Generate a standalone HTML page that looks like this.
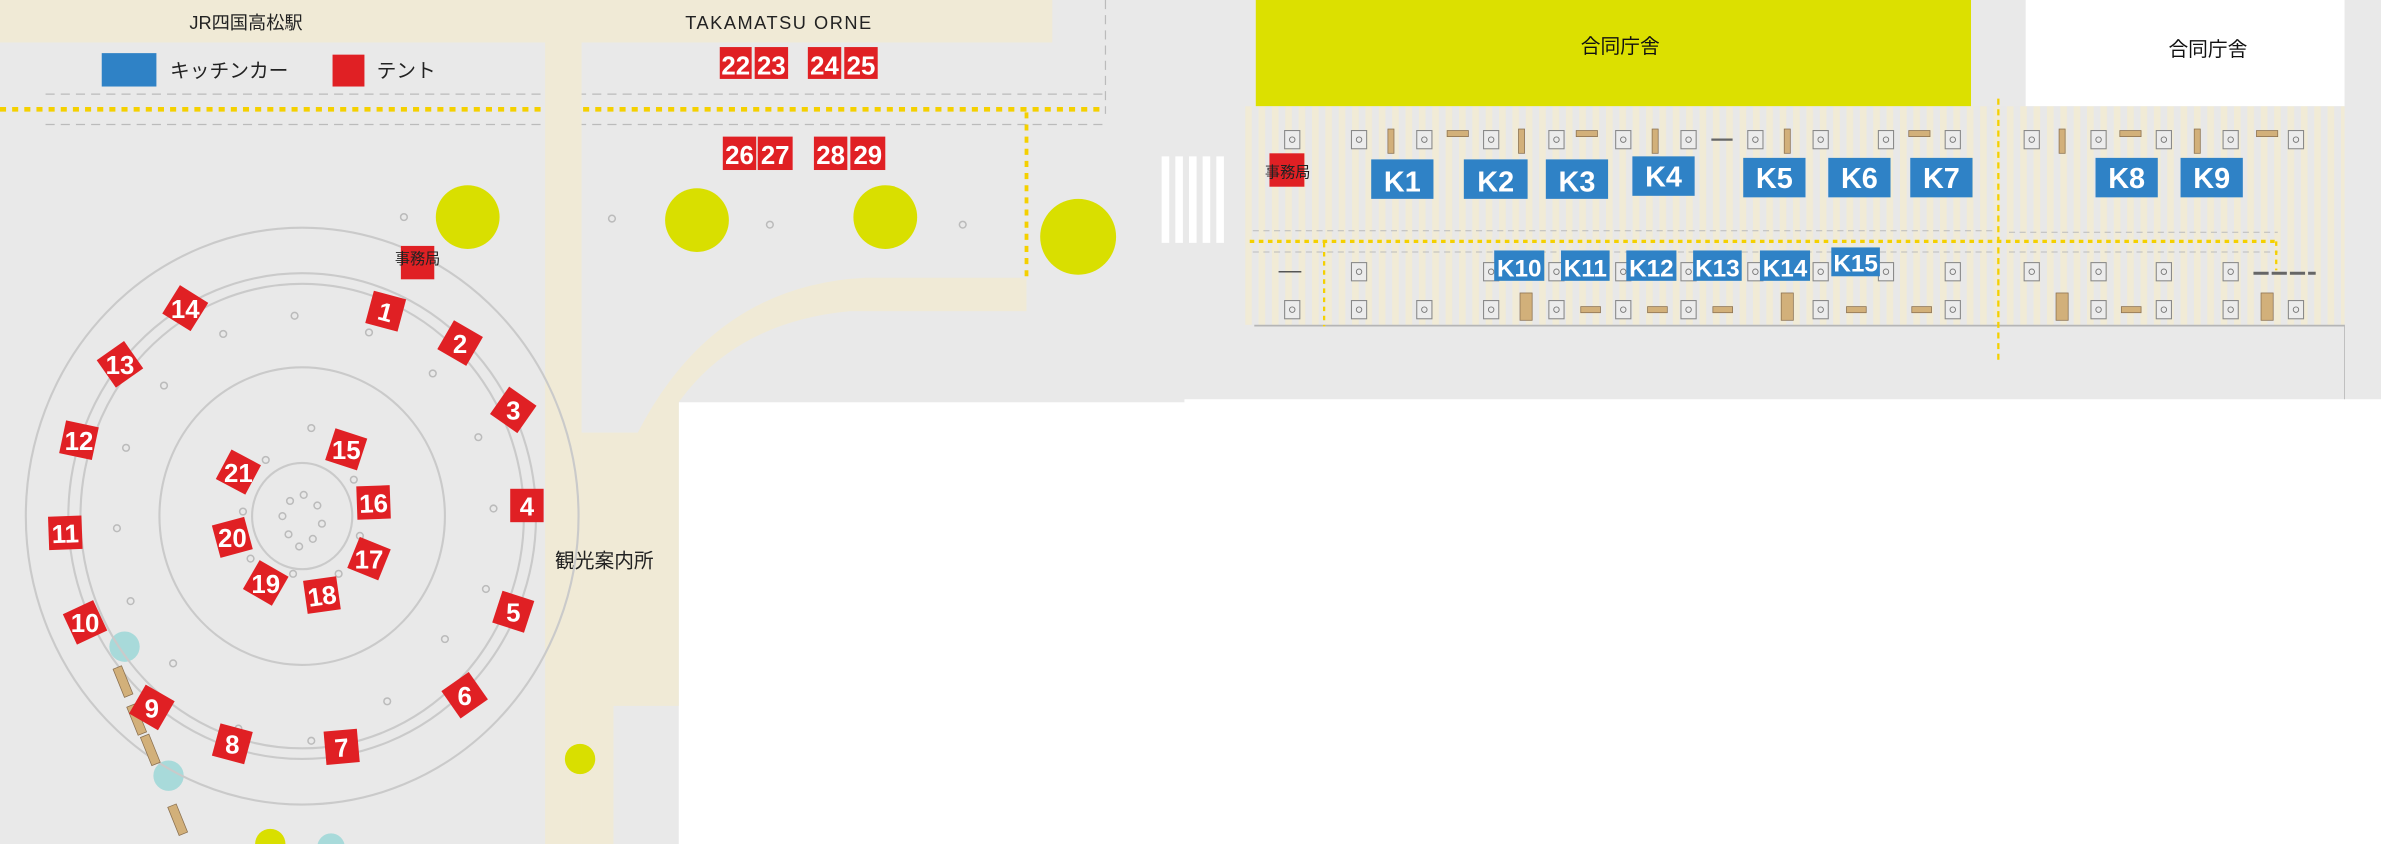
<!DOCTYPE html>
<html><head><meta charset="utf-8"><style>
html,body{margin:0;padding:0;background:#fff;}
svg{display:block;}
.t text{font-family:"Liberation Sans Narrow","Liberation Sans",sans-serif;font-weight:bold;fill:#fff;text-anchor:middle;}
.j{font-family:"Liberation Sans","Noto Sans CJK JP",sans-serif;}
</style></head><body>
<svg width="2381" height="844" viewBox="0 0 1568 556" preserveAspectRatio="none" xmlns="http://www.w3.org/2000/svg">
<defs>
<pattern id="st" x="820" y="0" width="8.8" height="10" patternUnits="userSpaceOnUse">
<rect width="8.8" height="10" fill="#e8e8e8"/><rect width="4.4" height="10" fill="#f1ebd6"/>
</pattern>
<g id="post"><rect x="-5" y="-6" width="10" height="12" fill="#ececec" stroke="#888" stroke-width="0.7"/><circle r="1.8" fill="none" stroke="#777" stroke-width="0.6"/></g>
<g id="dot"><circle r="2.2" fill="none" stroke="#bbb" stroke-width="1"/></g>
</defs>
<rect width="1568" height="556" fill="#e9e9e9"/>
<rect x="447" y="265" width="1121" height="291" fill="#fff"/>
<rect x="780" y="263" width="788" height="4" fill="#fff"/>
<!-- top band -->
<rect x="0" y="0" width="693" height="28" fill="#f0ead6"/>
<text class="j" x="162" y="19" font-size="12" text-anchor="middle" fill="#222">JR四国高松駅</text>
<text class="j" x="513" y="19" font-size="12" text-anchor="middle" fill="#222" letter-spacing="1">TAKAMATSU ORNE</text>
<!-- legend -->
<rect x="67" y="35" width="36" height="22" fill="#2f82c6"/>
<text class="j" x="112" y="51" font-size="13" fill="#222">キッチンカー</text>
<rect x="219" y="36" width="21" height="21" fill="#e02024"/>
<text class="j" x="248" y="51" font-size="13" fill="#222">テント</text>
<!-- lines -->
<line x1="30" y1="62" x2="728" y2="62" stroke="#bbb" stroke-width="0.8" stroke-dasharray="6,4"/>
<line x1="30" y1="82" x2="728" y2="82" stroke="#bbb" stroke-width="0.8" stroke-dasharray="6,4"/>
<line x1="0" y1="72" x2="728" y2="72" stroke="#f4d000" stroke-width="3" stroke-dasharray="4,4"/>
<line x1="728" y1="0" x2="728" y2="75" stroke="#bbb" stroke-width="0.8" stroke-dasharray="6,4"/>
<line x1="676" y1="74" x2="676" y2="183" stroke="#f4d000" stroke-width="2.5" stroke-dasharray="4,4"/>
<!-- walkways -->
<rect x="359" y="28" width="24" height="528" fill="#f0ead6"/>
<path d="M383,285 L420,285 Q470,188 570,183 L676,183 L676,205 L560,205 Q485,212 447,265 L447,465 L404,465 L404,556 L383,556 Z" fill="#f0ead6"/>
<text class="j" x="398" y="374" font-size="13" text-anchor="middle" fill="#222">観光案内所</text>
<!-- trees -->
<g fill="#d9df00"><circle cx="308" cy="143" r="21"/><circle cx="459" cy="145" r="21"/><circle cx="583" cy="143" r="21"/><circle cx="710" cy="156" r="25"/><circle cx="382" cy="500" r="10"/><circle cx="178" cy="556" r="10"/></g>
<g fill="#a8dada"><circle cx="82" cy="426" r="10"/><circle cx="111" cy="511" r="10"/><circle cx="218" cy="558" r="9"/></g>
<g fill="#ccc"><use href="#dot" x="403" y="144"/><use href="#dot" x="507" y="148"/><use href="#dot" x="634" y="148"/></g>
<!-- plaza -->
<g fill="none" stroke="#cacaca" stroke-width="1.4">
<ellipse cx="199" cy="340" rx="182" ry="190"/>
<ellipse cx="199" cy="340" rx="154" ry="160"/>
<ellipse cx="199" cy="340" rx="146" ry="153"/>
<ellipse cx="199" cy="340" rx="94" ry="98"/>
<ellipse cx="199" cy="340" rx="33" ry="35"/>
</g>
<g>
<use href="#dot" x="266" y="143"/><use href="#dot" x="243" y="219"/><use href="#dot" x="194" y="208"/><use href="#dot" x="147" y="220"/><use href="#dot" x="108" y="254"/><use href="#dot" x="83" y="295"/><use href="#dot" x="77" y="348"/><use href="#dot" x="86" y="396"/><use href="#dot" x="114" y="437"/><use href="#dot" x="157" y="480"/><use href="#dot" x="205" y="488"/><use href="#dot" x="255" y="462"/><use href="#dot" x="293" y="421"/><use href="#dot" x="320" y="388"/><use href="#dot" x="325" y="335"/><use href="#dot" x="315" y="288"/><use href="#dot" x="285" y="246"/>
<use href="#dot" x="175" y="303"/><use href="#dot" x="205" y="282"/><use href="#dot" x="233" y="316"/><use href="#dot" x="160" y="337"/><use href="#dot" x="165" y="368"/><use href="#dot" x="193" y="378"/><use href="#dot" x="223" y="378"/><use href="#dot" x="237" y="353"/>
<use href="#dot" x="191" y="330"/><use href="#dot" x="200" y="326"/><use href="#dot" x="209" y="333"/><use href="#dot" x="186" y="340"/><use href="#dot" x="212" y="345"/><use href="#dot" x="190" y="352"/><use href="#dot" x="206" y="355"/><use href="#dot" x="197" y="360"/>
</g>
<g fill="#d2b07a" stroke="#8a7050" stroke-width="0.5">
<rect x="-3" y="-10" width="6" height="20" transform="translate(81,449) rotate(-22)"/>
<rect x="-3" y="-10" width="6" height="20" transform="translate(90,474) rotate(-22)"/>
<rect x="-3" y="-10" width="6" height="20" transform="translate(99,494) rotate(-22)"/>
<rect x="-3" y="-10" width="6" height="20" transform="translate(117,540) rotate(-22)"/>
</g>
<!-- office -->
<rect x="264" y="162" width="22" height="22" fill="#e02024"/>
<text class="j" x="275" y="174" font-size="10" text-anchor="middle" fill="#222">事務局</text>
<!-- tents -->
<g class="t" font-size="17">
<g transform="translate(254,205) rotate(15)"><rect x="-11" y="-11" width="22" height="22" fill="#e02024"/><text y="6.5">1</text></g>
<g transform="translate(303,226) rotate(30)"><rect x="-11" y="-11" width="22" height="22" fill="#e02024"/><text y="6.5" transform="rotate(-30)">2</text></g>
<g transform="translate(338,270) rotate(35)"><rect x="-11" y="-11" width="22" height="22" fill="#e02024"/><text y="6.5" transform="rotate(-35)">3</text></g>
<g transform="translate(347,333)"><rect x="-11" y="-11" width="22" height="22" fill="#e02024"/><text y="6.5">4</text></g>
<g transform="translate(338,403) rotate(18)"><rect x="-11" y="-11" width="22" height="22" fill="#e02024"/><text y="6.5" transform="rotate(-18)">5</text></g>
<g transform="translate(306,458) rotate(-35)"><rect x="-11" y="-11" width="22" height="22" fill="#e02024"/><text y="6.5" transform="rotate(35)">6</text></g>
<g transform="translate(225,492) rotate(-5)"><rect x="-11" y="-11" width="22" height="22" fill="#e02024"/><text y="6.5">7</text></g>
<g transform="translate(153,490) rotate(15)"><rect x="-11" y="-11" width="22" height="22" fill="#e02024"/><text y="6.5" transform="rotate(-15)">8</text></g>
<g transform="translate(100,466) rotate(30)"><rect x="-11" y="-11" width="22" height="22" fill="#e02024"/><text y="6.5" transform="rotate(-30)">9</text></g>
<g transform="translate(56,410) rotate(-25)"><rect x="-11" y="-11" width="22" height="22" fill="#e02024"/><text y="6.5" transform="rotate(25)">10</text></g>
<g transform="translate(43,351) rotate(-2)"><rect x="-11" y="-11" width="22" height="22" fill="#e02024"/><text y="6.5">11</text></g>
<g transform="translate(52,290) rotate(12)"><rect x="-11" y="-11" width="22" height="22" fill="#e02024"/><text y="6.5" transform="rotate(-12)">12</text></g>
<g transform="translate(79,240) rotate(-35)"><rect x="-11" y="-11" width="22" height="22" fill="#e02024"/><text y="6.5" transform="rotate(35)">13</text></g>
<g transform="translate(122,203) rotate(32)"><rect x="-11" y="-11" width="22" height="22" fill="#e02024"/><text y="6.5" transform="rotate(-32)">14</text></g>
<g transform="translate(228,296) rotate(18)"><rect x="-11" y="-11" width="22" height="22" fill="#e02024"/><text y="6.5" transform="rotate(-18)">15</text></g>
<g transform="translate(246,331) rotate(-2)"><rect x="-11" y="-11" width="22" height="22" fill="#e02024"/><text y="6.5">16</text></g>
<g transform="translate(243,368) rotate(22)"><rect x="-11" y="-11" width="22" height="22" fill="#e02024"/><text y="6.5" transform="rotate(-22)">17</text></g>
<g transform="translate(212,392) rotate(-8)"><rect x="-11" y="-11" width="22" height="22" fill="#e02024"/><text y="6.5">18</text></g>
<g transform="translate(175,384) rotate(30)"><rect x="-11" y="-11" width="22" height="22" fill="#e02024"/><text y="6.5" transform="rotate(-30)">19</text></g>
<g transform="translate(153,354) rotate(-15)"><rect x="-11" y="-11" width="22" height="22" fill="#e02024"/><text y="6.5" transform="rotate(15)">20</text></g>
<g transform="translate(157,311) rotate(28)"><rect x="-11" y="-11" width="22" height="22" fill="#e02024"/><text y="6.5" transform="rotate(-28)">21</text></g>
<!-- top tents -->
<g fill="#e02024"><rect x="474" y="31" width="21" height="21"/><rect x="497" y="31" width="22" height="21"/><rect x="532" y="31" width="22" height="21"/><rect x="556" y="31" width="22" height="21"/>
<rect x="476" y="90" width="22" height="22"/><rect x="499" y="90" width="23" height="22"/><rect x="536" y="90" width="22" height="22"/><rect x="560" y="90" width="23" height="22"/></g>
<text x="484.5" y="49">22</text><text x="508" y="49">23</text><text x="543" y="49">24</text><text x="567" y="49">25</text>
<text x="487" y="108">26</text><text x="510.5" y="108">27</text><text x="547" y="108">28</text><text x="571.5" y="108">29</text>
</g>
<!-- crosswalk -->
<g fill="#fff"><rect x="765" y="103" width="5" height="57"/><rect x="774" y="103" width="5" height="57"/><rect x="783" y="103" width="5" height="57"/><rect x="792" y="103" width="5" height="57"/><rect x="801" y="103" width="5" height="57"/></g>
<!-- right area -->
<rect x="827" y="0" width="471" height="70" fill="#dce000"/>
<text class="j" x="1067" y="35" font-size="13" text-anchor="middle" fill="#111">合同庁舎</text>
<rect x="1334" y="0" width="210" height="70" fill="#fff"/>
<text class="j" x="1454" y="37" font-size="13" text-anchor="middle" fill="#111">合同庁舎</text>
<rect x="820" y="70" width="724" height="144" fill="url(#st)"/>
<line x1="826" y1="214.5" x2="1544" y2="214.5" stroke="#b5b5b5" stroke-width="1.2"/>
<line x1="1544" y1="214" x2="1544" y2="263" stroke="#bbb" stroke-width="0.6"/>
<line x1="825" y1="152" x2="1313" y2="152" stroke="#bbb" stroke-width="0.7" stroke-dasharray="4,3"/>
<line x1="825" y1="166" x2="1313" y2="166" stroke="#bbb" stroke-width="0.7" stroke-dasharray="4,3"/>
<line x1="1323" y1="153" x2="1500" y2="153" stroke="#bbb" stroke-width="0.7" stroke-dasharray="4,3"/>
<line x1="1323" y1="166" x2="1500" y2="166" stroke="#bbb" stroke-width="0.7" stroke-dasharray="4,3"/>
<line x1="823" y1="159" x2="1500" y2="159" stroke="#f4d000" stroke-width="2.2" stroke-dasharray="3,3"/>
<line x1="1499" y1="159" x2="1499" y2="178" stroke="#f4d000" stroke-width="1.5" stroke-dasharray="3,3"/>
<line x1="872" y1="160" x2="872" y2="215" stroke="#f4d000" stroke-width="1.5" stroke-dasharray="3,3"/>
<line x1="1316" y1="65" x2="1316" y2="240" stroke="#f4d000" stroke-width="1.5" stroke-dasharray="4,3"/>
<line x1="842" y1="179" x2="857" y2="179" stroke="#555" stroke-width="1"/>
<line x1="1484" y1="180" x2="1525" y2="180" stroke="#666" stroke-width="2" stroke-dasharray="10,2"/>
<line x1="1127" y1="92" x2="1141" y2="92" stroke="#666" stroke-width="1.5"/>
<!-- posts -->
<g>
<use href="#post" x="851" y="92"/><use href="#post" x="895" y="92"/><use href="#post" x="938" y="92"/><use href="#post" x="982" y="92"/><use href="#post" x="1025" y="92"/><use href="#post" x="1069" y="92"/><use href="#post" x="1112" y="92"/><use href="#post" x="1156" y="92"/><use href="#post" x="1199" y="92"/><use href="#post" x="1242" y="92"/><use href="#post" x="1286" y="92"/><use href="#post" x="1338" y="92"/><use href="#post" x="1382" y="92"/><use href="#post" x="1425" y="92"/><use href="#post" x="1469" y="92"/><use href="#post" x="1512" y="92"/>
<use href="#post" x="895" y="179"/><use href="#post" x="982" y="179"/><use href="#post" x="1025" y="179"/><use href="#post" x="1069" y="179"/><use href="#post" x="1112" y="179"/><use href="#post" x="1156" y="179"/><use href="#post" x="1199" y="179"/><use href="#post" x="1242" y="179"/><use href="#post" x="1286" y="179"/><use href="#post" x="1338" y="179"/><use href="#post" x="1382" y="179"/><use href="#post" x="1425" y="179"/><use href="#post" x="1469" y="179"/>
<use href="#post" x="851" y="204"/><use href="#post" x="895" y="204"/><use href="#post" x="938" y="204"/><use href="#post" x="982" y="204"/><use href="#post" x="1025" y="204"/><use href="#post" x="1069" y="204"/><use href="#post" x="1112" y="204"/><use href="#post" x="1199" y="204"/><use href="#post" x="1286" y="204"/><use href="#post" x="1382" y="204"/><use href="#post" x="1425" y="204"/><use href="#post" x="1469" y="204"/><use href="#post" x="1512" y="204"/>
</g>
<g fill="#d2b07a" stroke="#8a7050" stroke-width="0.5">
<rect x="914" y="85" width="4" height="16"/><rect x="1000" y="85" width="4" height="16"/><rect x="1088" y="85" width="4" height="16"/><rect x="1175" y="85" width="4" height="16"/><rect x="1356" y="85" width="4" height="16"/><rect x="1445" y="85" width="4" height="16"/>
<rect x="953" y="86" width="14" height="4"/><rect x="1038" y="86" width="14" height="4"/><rect x="1257" y="86" width="14" height="4"/><rect x="1396" y="86" width="14" height="4"/><rect x="1486" y="86" width="14" height="4"/>
<rect x="1001" y="193" width="8" height="18"/><rect x="1173" y="193" width="8" height="18"/><rect x="1354" y="193" width="8" height="18"/><rect x="1489" y="193" width="8" height="18"/>
<rect x="1041" y="202" width="13" height="4"/><rect x="1085" y="202" width="13" height="4"/><rect x="1128" y="202" width="13" height="4"/><rect x="1216" y="202" width="13" height="4"/><rect x="1259" y="202" width="13" height="4"/><rect x="1397" y="202" width="13" height="4"/>
</g>
<rect x="836" y="101" width="23" height="22" fill="#e02024"/>
<text class="j" x="848" y="117" font-size="10" text-anchor="middle" fill="#222">事務局</text>
<!-- K boxes -->
<g class="t" font-size="19">
<g fill="#2f82c6">
<rect x="903" y="105" width="41" height="26"/><rect x="964" y="105" width="42" height="26"/><rect x="1018" y="105" width="41" height="26"/><rect x="1075" y="103" width="41" height="26"/><rect x="1148" y="104" width="41" height="26"/><rect x="1204" y="104" width="41" height="26"/><rect x="1258" y="104" width="41" height="26"/><rect x="1380" y="104" width="41" height="26"/><rect x="1436" y="104" width="41" height="26"/>
<rect x="984" y="165" width="33" height="20"/><rect x="1028" y="165" width="32" height="20"/><rect x="1071" y="165" width="33" height="20"/><rect x="1115" y="165" width="32" height="20"/><rect x="1159" y="165" width="33" height="20"/><rect x="1206" y="163" width="32" height="19"/>
</g>
<text x="923.5" y="126">K1</text><text x="985" y="126">K2</text><text x="1038.5" y="126">K3</text><text x="1095.5" y="123">K4</text><text x="1168.5" y="124">K5</text><text x="1224.5" y="124">K6</text><text x="1278.5" y="124">K7</text><text x="1400.5" y="124">K8</text><text x="1456.5" y="124">K9</text>
<g font-size="16"><text x="1000.5" y="182">K10</text><text x="1044" y="182">K11</text><text x="1087.5" y="182">K12</text><text x="1131" y="182">K13</text><text x="1175.5" y="182">K14</text><text x="1222" y="179">K15</text></g>
</g>
</svg>
</body></html>
